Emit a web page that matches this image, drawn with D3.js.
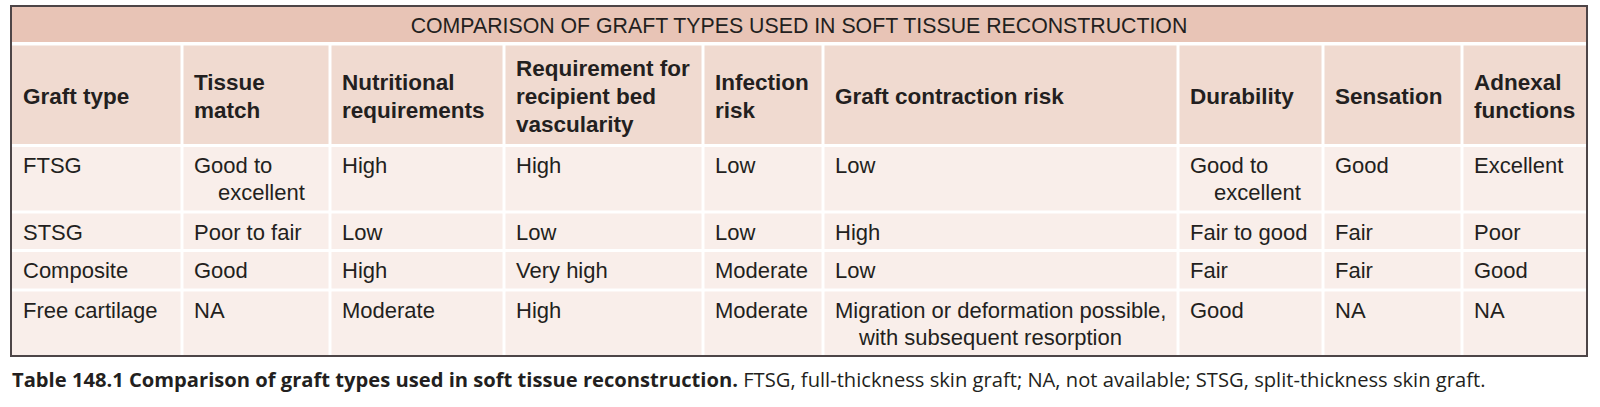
<!DOCTYPE html>
<html><head><meta charset="utf-8">
<script src="https://cdn.jsdelivr.net/npm/d3@7"></script>
<style>html,body{margin:0;padding:0;background:#fff;} svg{display:block}</style>
</head><body><svg id="c" width="1600" height="407"></svg>
<script>
// ---------- data ----------
const tableTitle = "COMPARISON OF GRAFT TYPES USED IN SOFT TISSUE RECONSTRUCTION";
const columnHeaders = ["Graft type", "Tissue\nmatch", "Nutritional\nrequirements", "Requirement for\nrecipient bed\nvascularity", "Infection\nrisk", "Graft contraction risk", "Durability", "Sensation", "Adnexal\nfunctions"];
const graftTypes = ["FTSG", "STSG", "Composite", "Free cartilage"];
const tissueMatch = ["Good to\nexcellent", "Poor to fair", "Good", "NA"];
const nutritionalRequirements = ["High", "Low", "High", "Moderate"];
const bedVascularity = ["High", "Low", "Very high", "High"];
const infectionRisk = ["Low", "Low", "Moderate", "Moderate"];
const contractionRisk = ["Low", "High", "Low", "Migration or deformation possible,\nwith subsequent resorption"];
const durability = ["Good to\nexcellent", "Fair to good", "Fair", "Good"];
const sensation = ["Good", "Fair", "Fair", "NA"];
const adnexalFunctions = ["Excellent", "Poor", "Good", "NA"];
const captionLabel = "Table 148.1 Comparison of graft types used in soft tissue reconstruction.";
const captionNote = " FTSG, full-thickness skin graft; NA, not available; STSG, split-thickness skin graft.";

// ---------- layout ----------
const W = 1600, H = 407;
const colEdges = [11, 182, 330, 504, 703, 823, 1178, 1323, 1462, 1587];
const rowEdges = [6, 44, 145.5, 212, 250.5, 290, 356];
const gap = 3;
const C = {title: "#e8c4b6", head: "#f0dad0", body: "#f9eeea", border: "#4d4547", text: "#231f20"};
const FONT = "'Liberation Sans', Arial, Helvetica, sans-serif";

const columns = [graftTypes, tissueMatch, nutritionalRequirements, bedVascularity, infectionRisk, contractionRisk, durability, sensation, adnexalFunctions];
const rows = graftTypes.map((g, i) => columns.map(col => col[i]));
const colIdx = d3.range(columnHeaders.length);
const rowIdx = d3.range(rows.length + 1); // header + body rows

const xL = d3.scaleOrdinal(colIdx, colEdges.slice(0, -1));
const xR = d3.scaleOrdinal(colIdx, colEdges.slice(1));
const yT = d3.scaleOrdinal(rowIdx, rowEdges.slice(1, -1));
const yB = d3.scaleOrdinal(rowIdx, rowEdges.slice(2));

const svg = d3.select("#c");
svg.append("rect").attr("width", W).attr("height", H).attr("fill", "#fff");

// title band
svg.append("rect").attr("x", colEdges[0]).attr("y", rowEdges[0])
  .attr("width", colEdges[colEdges.length - 1] - colEdges[0])
  .attr("height", rowEdges[1] - rowEdges[0] - gap / 2 - 0.5).attr("fill", C.title);
const t = svg.append("text").attr("x", (colEdges[0] + colEdges[colEdges.length - 1]) / 2).attr("y", 33)
  .attr("text-anchor", "middle").attr("font-family", FONT).attr("font-size", 20).attr("fill", C.text).text(tableTitle);
const tw = t.node().getComputedTextLength();
t.attr("font-size", 20 * 777 / tw);

// cells
const cells = [];
rowIdx.forEach(r => colIdx.forEach(c => cells.push({r, c, text: r === 0 ? columnHeaders[c] : rows[r - 1][c]})));
const last = colIdx.length - 1;
svg.append("g").selectAll("rect").data(cells).join("rect")
  .attr("x", d => xL(d.c) + (d.c === 0 ? 0 : gap / 2))
  .attr("y", d => yT(d.r) + gap / 2)
  .attr("width", d => xR(d.c) - xL(d.c) - (d.c === 0 ? 0 : gap / 2) - (d.c === last ? 0 : gap / 2))
  .attr("height", d => yB(d.r) - yT(d.r) - (d.r === rows.length ? gap / 2 : gap))
  .attr("fill", d => d.r === 0 ? C.head : C.body);

// header text
const headG = svg.append("g").attr("font-family", FONT).attr("font-weight", "bold").attr("font-size", 22.5).attr("fill", C.text);
cells.filter(d => d.r === 0).forEach(d => {
  const lines = d.text.split("\n");
  lines.forEach((ln, i) => {
    headG.append("text").attr("x", xL(d.c) + 12)
      .attr("y", 104 + (i - (lines.length - 1) / 2) * 28).text(ln);
  });
});

// body text
const bodyG = svg.append("g").attr("font-family", FONT).attr("font-size", 22).attr("fill", C.text);
cells.filter(d => d.r > 0).forEach(d => {
  d.text.split("\n").forEach((ln, i) => {
    bodyG.append("text").attr("x", xL(d.c) + 12 + (i > 0 ? 24 : 0))
      .attr("y", yT(d.r) + gap / 2 + 26 + i * 27).text(ln);
  });
});

// outer border
svg.append("rect").attr("x", colEdges[0]).attr("y", rowEdges[0])
  .attr("width", colEdges[colEdges.length - 1] - colEdges[0])
  .attr("height", rowEdges[rowEdges.length - 1] - rowEdges[0])
  .attr("fill", "none").attr("stroke", C.border).attr("stroke-width", 2);

// caption
const cap = svg.append("text").attr("x", 12).attr("y", 387)
  .attr("font-family", "'Open Sans', 'Noto Sans', sans-serif").attr("font-size", 20).attr("fill", C.text);
cap.append("tspan").attr("font-weight", "bold").text(captionLabel);
cap.append("tspan").attr("font-weight", "normal").text(captionNote);
const cw = cap.node().getComputedTextLength();
cap.attr("font-size", 20 * 1475 / cw);
</script></body></html>
